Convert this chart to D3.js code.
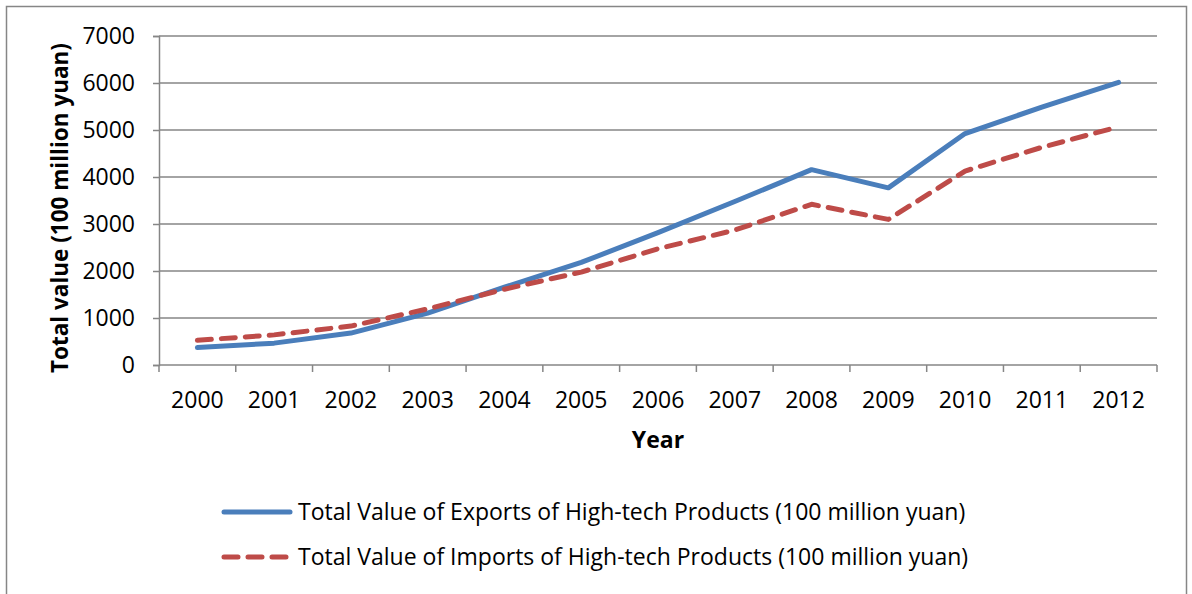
<!DOCTYPE html>
<html>
<head>
<meta charset="utf-8">
<script src="https://cdn.jsdelivr.net/npm/d3@7"></script>
<style>
  body { margin: 0; background: #fff; }
  text { font-family: "Open Sans", sans-serif; fill: #000; }
</style>
</head>
<body>
<div id="chart"></div>
<script>
// data
const years = ["2000", "2001", "2002", "2003", "2004", "2005", "2006",
               "2007", "2008", "2009", "2010", "2011", "2012"];
const exportsVals = [370, 465, 679, 1103, 1655, 2182, 2815, 3478, 4156, 3769, 4924, 5488, 6012];
const importsVals = [525, 641, 828, 1193, 1613, 1977, 2473, 2870, 3419, 3098, 4127, 4632, 5068];
const yTicks = [0, 1000, 2000, 3000, 4000, 5000, 6000, 7000];
const seriesNames = [
  "Total Value of Exports of High-tech Products (100 million yuan)",
  "Total Value of Imports of High-tech Products (100 million yuan)"
];

const width = 1192, height = 594;
const plotLeft = 159, plotRight = 1157, plotTop = 36, plotBottom = 365;
const fontSize = "23px";

const svg = d3.select("#chart")
  .append("svg")
  .attr("width", width)
  .attr("height", height);

// outer chart border (bottom edge is cut off in the reference)
svg.append("rect")
  .attr("x", 6.5).attr("y", 6.5)
  .attr("width", 1180).attr("height", 600)
  .style("fill", "none")
  .style("stroke", "#868686")
  .style("stroke-width", 1.5);

const x = d3.scaleBand().domain(years).range([plotLeft, plotRight]);
const y = d3.scaleLinear().domain([0, 7000]).range([plotBottom, plotTop]);

// gridlines
svg.selectAll(".grid")
  .data(yTicks.filter(d => d > 0))
  .enter()
  .append("line")
  .attr("x1", plotLeft).attr("x2", plotRight)
  .attr("y1", d => y(d)).attr("y2", d => y(d))
  .style("stroke", "#868686")
  .style("stroke-width", 1.5);

// y axis
const yAxis = svg.append("g")
  .attr("transform", `translate(${plotLeft},0)`)
  .call(d3.axisLeft(y).tickValues(yTicks).tickFormat(d3.format("d")).tickSize(6).tickPadding(18));
yAxis.select(".domain").style("stroke", "#868686").style("stroke-width", 1.5);
yAxis.selectAll(".tick line").style("stroke", "#868686").style("stroke-width", 1.5);
yAxis.selectAll("text")
  .style("font-size", fontSize)
  .style("font-family", "'Open Sans', sans-serif");

// x axis, ticks between categories
const xAxis = svg.append("g")
  .attr("transform", `translate(0,${plotBottom})`);
xAxis.append("line")
  .attr("x1", plotLeft).attr("x2", plotRight)
  .style("stroke", "#868686").style("stroke-width", 1.5);
xAxis.selectAll(".xtick")
  .data(years.concat(["end"]))
  .enter()
  .append("line")
  .attr("x1", (d, i) => plotLeft + i * x.bandwidth())
  .attr("x2", (d, i) => plotLeft + i * x.bandwidth())
  .attr("y1", 0).attr("y2", 7)
  .style("stroke", "#868686").style("stroke-width", 1.5);
xAxis.selectAll(".xlabel")
  .data(years)
  .enter()
  .append("text")
  .attr("x", d => x(d) + x.bandwidth() / 2)
  .attr("y", 43)
  .attr("text-anchor", "middle")
  .style("font-size", fontSize)
  .text(d => d);

// axis titles
svg.append("text")
  .attr("x", 658).attr("y", 448)
  .attr("text-anchor", "middle")
  .style("font-size", fontSize)
  .style("font-weight", "bold")
  .text("Year");

svg.append("text")
  .attr("transform", "translate(68,208) rotate(-90)")
  .attr("text-anchor", "middle")
  .style("font-size", "22.5px")
  .style("font-weight", "bold")
  .text("Total value (100 million yuan)");

// lines
const line = d3.line()
  .x((d, i) => x(years[i]) + x.bandwidth() / 2)
  .y(d => y(d));

svg.append("path")
  .datum(exportsVals)
  .attr("d", line)
  .style("fill", "none")
  .style("stroke", "#4A7EBB")
  .style("stroke-width", 5)
  .style("stroke-linejoin", "round")
  .style("stroke-linecap", "round");

svg.append("path")
  .datum(importsVals)
  .attr("d", line)
  .style("fill", "none")
  .style("stroke", "#BE4B48")
  .style("stroke-width", 5)
  .style("stroke-dasharray", "14,10")
  .style("stroke-linejoin", "round")
  .style("stroke-linecap", "round");

// legend
const legend = svg.append("g");
const legendRows = [
  { name: seriesNames[0], color: "#4A7EBB", dash: null, yPos: 512 },
  { name: seriesNames[1], color: "#BE4B48", dash: "14,10", yPos: 557 }
];
legendRows.forEach(r => {
  legend.append("line")
    .attr("x1", 224).attr("x2", 290)
    .attr("y1", r.yPos).attr("y2", r.yPos)
    .style("stroke", r.color)
    .style("stroke-width", 5)
    .style("stroke-linecap", "round")
    .style("stroke-dasharray", r.dash);
  legend.append("text")
    .attr("x", 298).attr("y", r.yPos + 8)
    .style("font-size", fontSize)
    .text(r.name);
});
</script>
</body>
</html>
